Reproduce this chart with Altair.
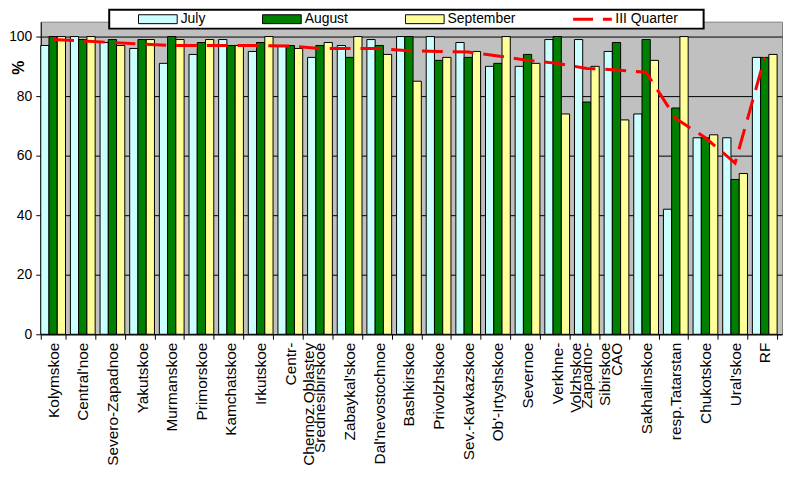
import altair as alt
import pandas as pd

categories = ["Kolymskoe", "Central'noe", "Severo-Zapadnoe", "Yakutskoe", "Murmanskoe",
              "Primorskoe", "Kamchatskoe", "Irkutskoe", "Centr-\nChernoz.Oblastey",
              "Srednesibirskoe", "Zabaykal'skoe", "Dal'nevostochnoe", "Bashkirskoe",
              "Privolzhskoe", "Sev.-Kavkazskoe", "Ob'-Irtyshskoe", "Severnoe",
              "Verkhne-\nVolzhskoe", "Zapadno-\nSibirskoe", "CAO", "Sakhalinskoe",
              "resp.Tatarstan", "Chukotskoe", "Ural'skoe", "RF"]

months = ["July", "August", "September"]
quarter_name = "III Quarter"

july = [97, 100, 98, 96, 91, 94, 99, 95, 97, 93, 97, 99, 100, 100, 98, 90, 90, 99, 99, 95, 74, 42, 66, 66, 93]
august = [100, 99, 99, 99, 100, 98, 97, 98, 97, 97, 93, 97, 100, 92, 93, 91, 94, 100, 78, 98, 99, 76, 66, 52, 93]
september = [100, 100, 97, 99, 99, 99, 97, 100, 96, 98, 100, 94, 85, 93, 95, 100, 91, 74, 90, 72, 92, 100, 67, 54, 94]
quarter = [99, 98.5, 98, 97.5, 97, 97, 97, 97, 96.8, 96, 96, 96, 95.2, 95, 94.8, 93.5, 92, 91,
           89.3, 88.8, 88, 72.5, 66, 57.5, 93]

colors = ["#CCFFFF", "#008000", "#FFFF99", "#FF0000"]

rows = []
for m, vals in zip(months, [july, august, september]):
    for c, v in zip(categories, vals):
        rows.append({"Region": c, "Month": m, "Value": v})
bar_df = pd.DataFrame(rows)
q_df = pd.DataFrame({"Region": categories, "Value": quarter})

x_scale = alt.Scale(domain=categories, paddingInner=0.165, paddingOuter=0.0825, align=0)
y_scale = alt.Scale(domain=[0, 105], nice=False, zero=True)

is_q = "datum.value === 'III Quarter'"
pad_right = "\u2800\u00a0\u2800"

legend = alt.Legend(
    orient="none", legendX=69, legendY=-12, direction="horizontal",
    title="\u00a0", titleOrient="left", titlePadding=27, titleFontSize=14,
    fillColor="white", strokeColor="black", padding=2,
    symbolType=alt.ExprRef(f"({is_q} ? 'M-1,0H1' : 'M-1,-0.23H1V0.23H-1Z')"),
    symbolSize=1521,
    symbolStrokeColor=alt.ExprRef(f"({is_q} ? '#FF0000' : '#000000')"),
    symbolStrokeWidth=alt.ExprRef(f"({is_q} ? 3 : 1)"),
    symbolDash=alt.ExprRef(f"({is_q} ? [20, 10] : [])"),
    symbolOpacity=1,
    clipHeight=15,
    labelFont="Arial", labelFontSize=14, labelColor="black", labelOffset=3,
    labelExpr=f"({is_q} ? datum.label + '{pad_right}' : datum.label)",
    columnPadding=57,
)

x_axis = alt.Axis(labelAngle=-90, labelFont="Arial", labelFontSize=15.5,
                  labelColor="black", labelLineHeight=18,
                  labelExpr="split(datum.label, '\\n')",
                  tickBand="extent", tickSize=5, tickColor="black",
                  domainColor="black", labelPadding=3, grid=False,
                  labelOverlap=False, labelBound=False, labelLimit=300)

y_axis = alt.Axis(values=[0, 20, 40, 60, 80, 100], grid=True, gridColor="black",
                  gridWidth=1, gridOpacity=1, tickColor="black", tickSize=5,
                  domainColor="black", labelFont="Arial", labelFontSize=14,
                  labelColor="black", labelPadding=4,
                  titleFont="Arial", titleFontSize=16, titleFontWeight="bold",
                  titleColor="black", titleAngle=270, titleX=-22, titleY=46,
                  titleAlign="center", titleBaseline="middle")

bars = alt.Chart(bar_df).mark_bar(stroke="black").encode(
    x=alt.X("Region:N", scale=x_scale, sort=categories, title=None, axis=x_axis),
    xOffset=alt.XOffset("Month:N", sort=months,
                        scale=alt.Scale(domain=months, paddingInner=0, paddingOuter=0)),
    y=alt.Y("Value:Q", scale=y_scale, title="%", axis=y_axis),
    fill=alt.Fill("Month:N", scale=alt.Scale(domain=months + [quarter_name], range=colors),
                  legend=legend),
)

line = alt.Chart(q_df).mark_line(color="#FF0000", strokeWidth=3, strokeDash=[21, 10]).encode(
    x=alt.X("Region:N", scale=x_scale, sort=categories, title=None, axis=x_axis),
    y=alt.Y("Value:Q", scale=y_scale, title="%", axis=y_axis),
)

chart = alt.layer(bars, line).properties(
    width=747, height=315,
    autosize=alt.AutoSizeParams(type="none"),
    padding={"left": 33, "top": 12, "right": 2, "bottom": 134},
    background="white",
).configure_view(
    fill="#C0C0C0", stroke="#808080", strokeWidth=1
).configure_legend(strokeWidth=2)

chart.save("out.html", embed_options={"renderer": "svg", "actions": False})
